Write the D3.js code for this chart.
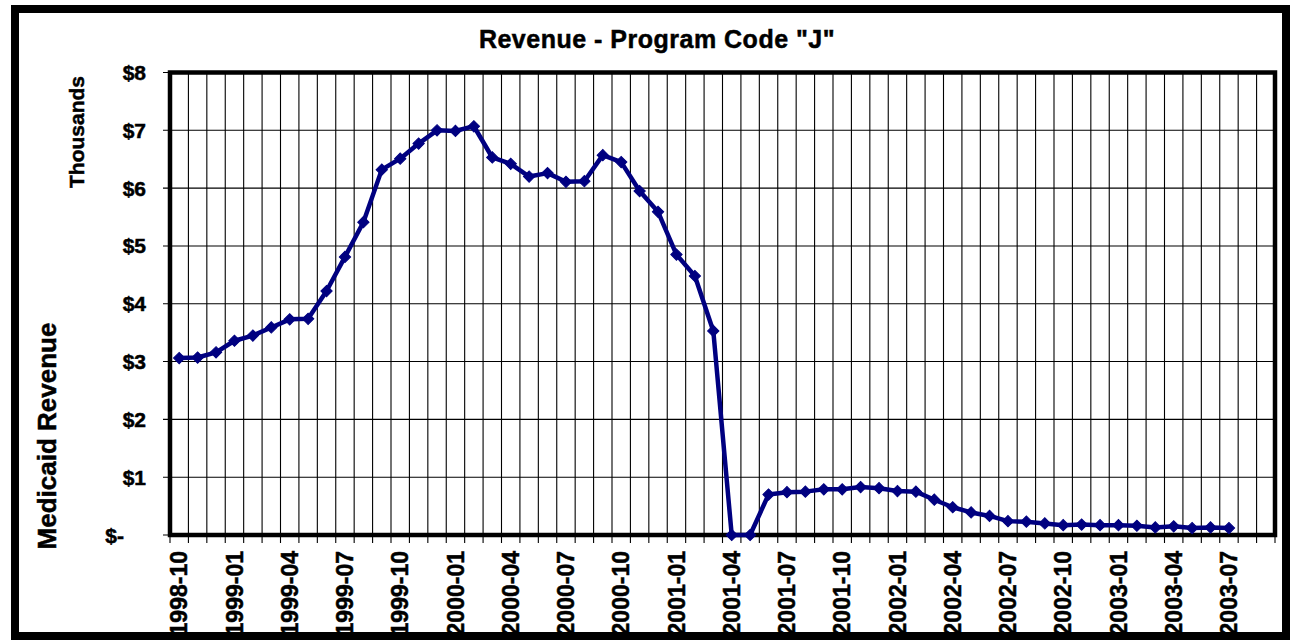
<!DOCTYPE html>
<html>
<head>
<meta charset="utf-8">
<script src="https://cdn.jsdelivr.net/npm/d3@7"></script>
<style>
    body { margin: 0; background: #fff; }
    svg { display: block; }
    text { fill: #000; stroke: #000; stroke-width: 0.5px; font-weight: bold; }
    .ylab { font-family: "Liberation Sans", Arial, sans-serif; font-size: 21px; }
    .xlab { font-family: "Liberation Sans Narrow", "Arial Narrow", "Liberation Sans", Arial, sans-serif; font-size: 23px; }
</style>
</head>
<body>
<div id="chart"></div>
<script>

var months = [
    "1998-10", "1998-11", "1998-12",
    "1999-01", "1999-02", "1999-03", "1999-04", "1999-05", "1999-06",
    "1999-07", "1999-08", "1999-09", "1999-10", "1999-11", "1999-12",
    "2000-01", "2000-02", "2000-03", "2000-04", "2000-05", "2000-06",
    "2000-07", "2000-08", "2000-09", "2000-10", "2000-11", "2000-12",
    "2001-01", "2001-02", "2001-03", "2001-04", "2001-05", "2001-06",
    "2001-07", "2001-08", "2001-09", "2001-10", "2001-11", "2001-12",
    "2002-01", "2002-02", "2002-03", "2002-04", "2002-05", "2002-06",
    "2002-07", "2002-08", "2002-09", "2002-10", "2002-11", "2002-12",
    "2003-01", "2003-02", "2003-03", "2003-04", "2003-05", "2003-06",
    "2003-07", "2003-08", "2003-09"
];

// revenue in thousands of dollars, one value per month (ends 2003-07)
var revenue = [
    3.06, 3.07, 3.16, 3.36, 3.45, 3.59, 3.73, 3.74, 4.22, 4.81,
    5.41, 6.32, 6.51, 6.77, 7.00, 6.99, 7.07, 6.53, 6.42, 6.20,
    6.26, 6.11, 6.12, 6.57, 6.45, 5.95, 5.59, 4.85, 4.48, 3.53,
    0.00, 0.00, 0.70, 0.74, 0.75, 0.79, 0.79, 0.83, 0.81, 0.76,
    0.75, 0.61, 0.48, 0.39, 0.33, 0.24, 0.23, 0.20, 0.17, 0.18,
    0.17, 0.17, 0.16, 0.13, 0.15, 0.12, 0.13, 0.12
];

var yTicks = [0, 1, 2, 3, 4, 5, 6, 7, 8];
var xLabels = months.filter(function(d, i) { return i % 3 === 0 && i < revenue.length; });

var width = 1290,
    height = 641,
    plot = {left: 170, right: 1275, top: 72.5, bottom: 535};

var svg = d3.select("#chart").append("svg")
    .attr("width", width)
    .attr("height", height);

// outer frame
svg.append("rect")
    .attr("x", 15)
    .attr("y", 9)
    .attr("width", 1271)
    .attr("height", 627)
    .style("fill", "#fff")
    .style("stroke", "#000")
    .style("stroke-width", 8);

var x = d3.scaleBand()
    .domain(months)
    .range([plot.left, plot.right]);

var y = d3.scaleLinear()
    .domain([0, 8])
    .range([plot.bottom, plot.top]);

var g = svg.append("g");

// vertical grid at each month boundary
var bounds = d3.range(months.length + 1).map(function(i) { return plot.left + i * x.step(); });

g.selectAll(".vgrid")
    .data(bounds)
    .enter().append("line")
    .attr("class", "vgrid")
    .attr("x1", function(d) { return d; })
    .attr("x2", function(d) { return d; })
    .attr("y1", plot.top)
    .attr("y2", plot.bottom + 8)
    .style("stroke", "#000")
    .style("stroke-width", 1.1);

g.selectAll(".hgrid")
    .data(yTicks)
    .enter().append("line")
    .attr("class", "hgrid")
    .attr("x1", plot.left - 7)
    .attr("x2", plot.right)
    .attr("y1", function(d) { return y(d); })
    .attr("y2", function(d) { return y(d); })
    .style("stroke", "#000")
    .style("stroke-width", 1.1);

// plot border
g.append("rect")
    .attr("x", plot.left)
    .attr("y", plot.top)
    .attr("width", plot.right - plot.left)
    .attr("height", plot.bottom - plot.top)
    .style("fill", "none")
    .style("stroke", "#000")
    .style("stroke-width", 4.5);

// y labels
g.selectAll(".ylab")
    .data(yTicks)
    .enter().append("text")
    .attr("class", "ylab")
    .attr("x", function(d) { return d === 0 ? 124 : 146; })
    .attr("y", function(d) { return y(d); })
    .attr("dy", ".36em")
    .attr("text-anchor", "end")
    .text(function(d) { return d === 0 ? "$-" : "$" + d; });

// x labels
g.selectAll(".xlab")
    .data(xLabels)
    .enter().append("text")
    .attr("class", "xlab")
    .attr("transform", function(d) { return "translate(" + (x(d) + x.bandwidth() / 2) + ",551) rotate(-90)"; })
    .attr("dy", ".36em")
    .attr("text-anchor", "end")
    .text(function(d) { return d; });

// series
var line = d3.line()
    .x(function(d, i) { return x(months[i]) + x.bandwidth() / 2; })
    .y(function(d) { return y(d); });

g.append("path")
    .datum(revenue)
    .attr("d", line)
    .style("fill", "none")
    .style("stroke", "#000080")
    .style("stroke-width", 4.5)
    .style("stroke-linejoin", "round");

g.selectAll(".pt")
    .data(revenue)
    .enter().append("path")
    .attr("class", "pt")
    .attr("d", d3.symbol().type(d3.symbolSquare).size(64))
    .attr("transform", function(d, i) {
        return "translate(" + (x(months[i]) + x.bandwidth() / 2) + "," + y(d) + ") rotate(45)";
    })
    .style("fill", "#000080")
    .style("stroke", "#000080")
    .style("stroke-width", 1);

// titles
svg.append("text")
    .attr("x", 657)
    .attr("y", 48)
    .attr("text-anchor", "middle")
    .style("font-family", "'Liberation Sans', Arial, sans-serif")
    .style("font-size", "25px")
    .style("letter-spacing", "0.5px")
    .text("Revenue - Program Code \"J\"");

svg.append("text")
    .attr("transform", "translate(84,132) rotate(-90)")
    .attr("text-anchor", "middle")
    .style("font-family", "'Liberation Sans', Arial, sans-serif")
    .style("font-size", "21px")
    .text("Thousands");

svg.append("text")
    .attr("transform", "translate(56,436) rotate(-90)")
    .attr("text-anchor", "middle")
    .style("font-family", "'Liberation Sans', Arial, sans-serif")
    .style("font-size", "26px")
    .text("Medicaid Revenue");

</script>
</body>
</html>
